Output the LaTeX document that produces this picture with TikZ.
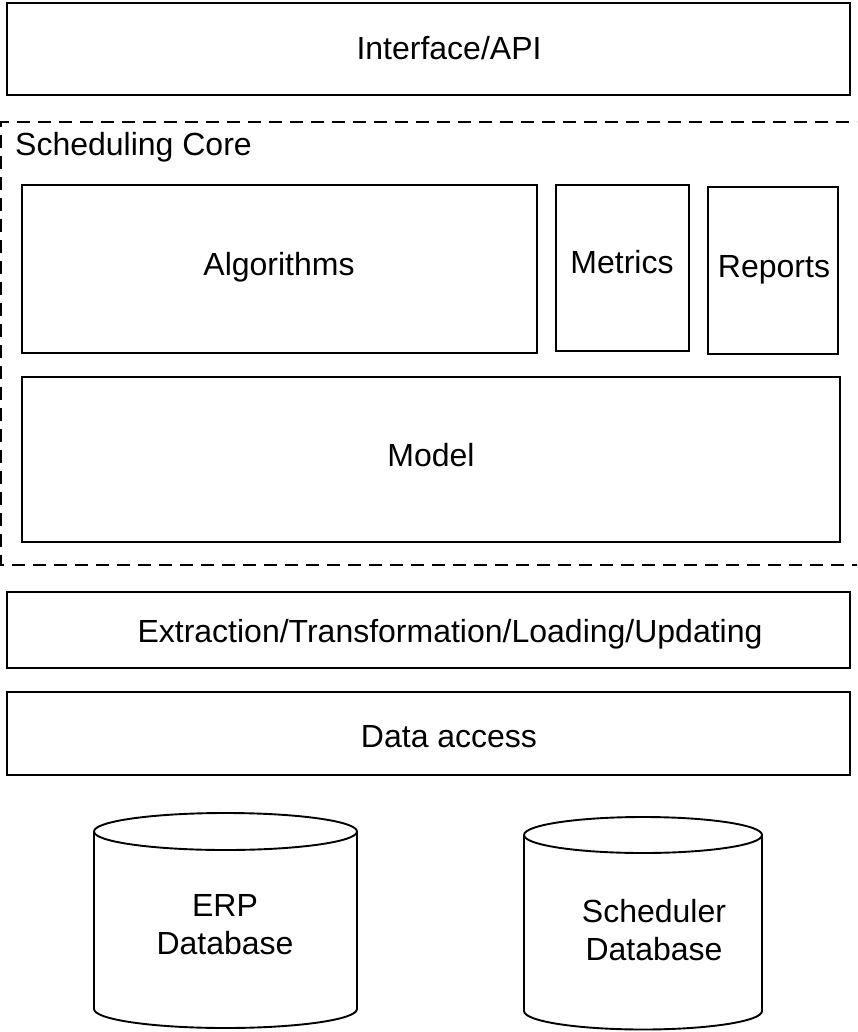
\documentclass[tikz,border=0pt]{standalone}
\usepackage{fontspec}
\setmainfont{Liberation Sans}
\newcommand\diagfont{\fontsize{32}{38}\selectfont}
\begin{document}
\begin{tikzpicture}[x=1pt,y=-1pt,
  layerbox/.style={draw, line width=1.9pt, rectangle, inner sep=0pt},
  corebox/.style={draw, line width=1.9pt, dash pattern=on 13pt off 8pt},
  cyl/.style={draw, line width=1.9pt},
  lbl/.style={font=\diagfont, align=center, inner sep=0pt},
  basetxt/.style={lbl, anchor=base}]
\useasboundingbox (0,0) rectangle (857,1032);
\clip (0,0) rectangle (857,1032);

% top layer
\node[layerbox, minimum width=843pt, minimum height=92pt] (api) at (428.5,49) {};
\node[basetxt] (apitxt) at (449,60) {Interface/API};

% scheduling core (dashed frame)
\draw[corebox] (870,122) -- (1,122) -- (1,565) -- (870,565);
\node[lbl, anchor=base west] (corelabel) at (15,156) {Scheduling Core};

\node[layerbox, minimum width=515pt, minimum height=168pt] (alg) at (279.5,269) {};
\node[basetxt] (algtxt) at (279,275) {Algorithms};
\node[layerbox, minimum width=133pt, minimum height=166pt] (metrics) at (622.5,268) {};
\node[basetxt] (metricstxt) at (622,273) {Metrics};
\node[layerbox, minimum width=130pt, minimum height=167pt] (reports) at (773,270.5) {};
\node[basetxt] (reportstxt) at (774,277) {Reports};
\node[layerbox, minimum width=818pt, minimum height=165pt] (model) at (431,459.5) {};
\node[basetxt] (modeltxt) at (431,466) {Model};

% lower layers
\node[layerbox, minimum width=843pt, minimum height=76pt] (etl) at (428.5,630) {};
\node[basetxt] (etltxt) at (450,642) {Extraction/Transformation/Loading/Updating};
\node[layerbox, minimum width=843pt, minimum height=83pt] (data) at (428.5,733.5) {};
\node[basetxt] (datatxt) at (449,747) {Data access};

% ERP database cylinder
\draw[cyl] (225.5,831.5) ellipse[x radius=131.5pt, y radius=18.5pt];
\draw[cyl] (94,831.5) -- (94,1009) arc[start angle=180, end angle=360, x radius=131.5pt, y radius=19pt] -- (357,831.5);
\node[lbl] (erp) at (225,924.5) {ERP\\Database};

% Scheduler database cylinder
\draw[cyl] (643,835) ellipse[x radius=119pt, y radius=18pt];
\draw[cyl] (524,835) -- (524,1011) arc[start angle=180, end angle=360, x radius=119pt, y radius=18.5pt] -- (762,835);
\node[lbl] (sched) at (654,930) {Scheduler\\Database};
\end{tikzpicture}
\end{document}
